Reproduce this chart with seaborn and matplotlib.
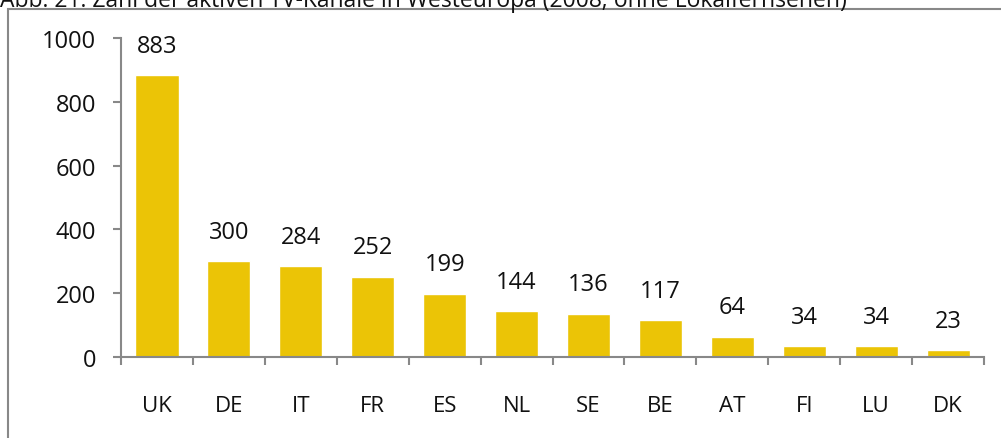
import matplotlib.pyplot as plt
import matplotlib.patches as mpatches
import seaborn as sns
import pandas as pd

laender = ['UK', 'DE', 'IT', 'FR', 'ES', 'NL', 'SE', 'BE', 'AT', 'FI', 'LU', 'DK']
kanaele = [883, 300, 284, 252, 199, 144, 136, 117, 64, 34, 34, 23]
titel = 'Abb. 21: Zahl der aktiven TV-Kanäle in Westeuropa (2008; ohne Lokalfernsehen)'

df = pd.DataFrame({'land': laender, 'kanaele': kanaele})

sns.set_style('white')
plt.rcParams['font.family'] = ['Open Sans', 'DejaVu Sans']

grau = '#888888'
gelb = '#EBC406'

fig = plt.figure(figsize=(10.01, 4.39), dpi=100)
ax = fig.add_axes([0.1209, 0.1845, 0.8622, 0.7267])

sns.barplot(data=df, x='land', y='kanaele', color=gelb, width=0.6,
            saturation=1, ax=ax)

for i, v in enumerate(kanaele):
    ax.annotate(str(v), (i, v), xytext=(0, 21), textcoords='offset points',
                ha='center', va='center', fontsize=17, color='#111111')

ax.set_ylim(0, 1000)
ax.set_xlim(-0.5, len(laender) - 0.5)
ax.set_yticks(range(0, 1001, 200))
ax.set_xlabel('')
ax.set_ylabel('')

for s in ['top', 'right']:
    ax.spines[s].set_visible(False)
for s in ['left', 'bottom']:
    ax.spines[s].set_color(grau)
    ax.spines[s].set_linewidth(1.5)

ax.tick_params(axis='y', which='major', left=True, length=6, width=1.5,
               color=grau, pad=12, labelsize=17, labelcolor='#111111')
ax.tick_params(axis='x', which='major', length=0, pad=27,
               labelsize=16, labelcolor='#111111')
ax.set_xticks([i - 0.5 for i in range(len(laender) + 1)], minor=True)
ax.tick_params(axis='x', which='minor', bottom=True, length=6, width=1.5,
               color=grau)

# Rahmen um die Abbildung (oben und links sichtbar)
rahmen = mpatches.Rectangle((8 / 1001, -0.1), 1.2, 1.1 - 10 / 439,
                            transform=fig.transFigure, fill=False,
                            edgecolor=grau, linewidth=1.5, clip_on=False)
fig.patches.append(rahmen)

fig.text(0.0, 1 - 1 / 439, titel, ha='left', va='center', fontsize=16.5,
         color='#111111')

fig.savefig('out.png', dpi=100)
